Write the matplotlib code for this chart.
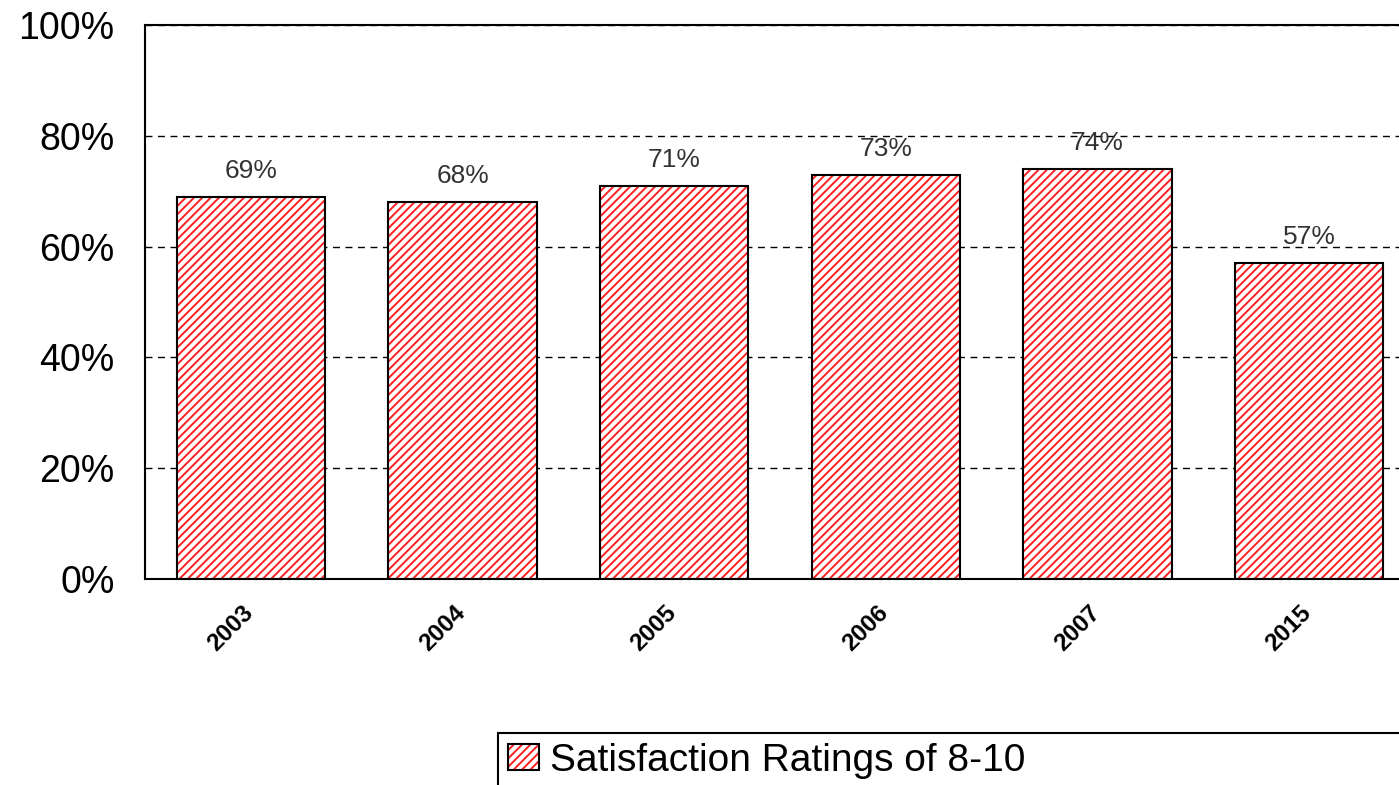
import matplotlib
matplotlib.use("Agg")
import matplotlib.pyplot as plt
import matplotlib.transforms as mtransforms
from matplotlib.ticker import PercentFormatter
from matplotlib.legend_handler import HandlerTuple

# data
years = ["2003", "2004", "2005", "2006", "2007", "2015"]
satisfaction = [69, 68, 71, 73, 74, 57]
series_label = "Satisfaction Ratings of 8-10"

plt.rcParams["font.family"] = ["Liberation Sans", "DejaVu Sans"]
plt.rcParams["hatch.linewidth"] = 1.4

fig = plt.figure(figsize=(13.99, 7.85), dpi=100)
# plot area runs past the right edge of the picture, as in the reference
ax = fig.add_axes([145 / 1399, 206 / 785, 1270 / 1399, 554 / 785])

x = range(len(years))
hatched = ax.bar(x, satisfaction, width=0.7, color="white", edgecolor="#ff2020",
                 linewidth=0, hatch="////", zorder=2)
outline = ax.bar(x, satisfaction, width=0.7, fill=False, edgecolor="black",
                 linewidth=1.5, zorder=3)

for xi, v in zip(x, satisfaction):
    ax.annotate(f"{v}%", (xi, v), xytext=(0, 10), textcoords="offset points",
                ha="center", va="bottom", fontsize=19, color="#333333", zorder=4)

ax.set_xlim(-0.5, 5.5)
ax.set_ylim(0, 100)
ax.set_yticks([0, 20, 40, 60, 80, 100])
ax.yaxis.set_major_formatter(PercentFormatter(decimals=0))
ax.set_xticks(list(x))
ax.set_xticklabels(years, rotation=45, ha="right", fontsize=17.5, fontweight="bold")
ax.tick_params(axis="x", length=0, pad=16)
ax.tick_params(axis="y", length=0, pad=22, labelsize=27)
# nudge the slanted year labels a little to the right
shift = mtransforms.ScaledTranslation(7 / 100, 0, fig.dpi_scale_trans)
for lbl in ax.get_xticklabels():
    lbl.set_transform(lbl.get_transform() + shift)

ax.yaxis.grid(True, linestyle=(0, (5, 4)), color="black", linewidth=1.0)
ax.set_axisbelow(True)
for s in ["left", "top", "bottom", "right"]:
    ax.spines[s].set_linewidth(1.5)
    ax.spines[s].set_color("black")

leg = fig.legend([(hatched[0], outline[0])], [series_label],
                 handler_map={tuple: HandlerTuple(ndivide=1, pad=0)},
                 loc="upper left", bbox_to_anchor=(498 / 1399, 0, 0.8, 1 - 733 / 785),
                 mode="expand", fontsize=28, fancybox=False, framealpha=1,
                 edgecolor="black", handlelength=0.8, handleheight=0.62,
                 handletextpad=0.3, borderpad=0.25, borderaxespad=0)
leg.get_frame().set_linewidth(1.5)

fig.savefig("out.png", dpi=100)
